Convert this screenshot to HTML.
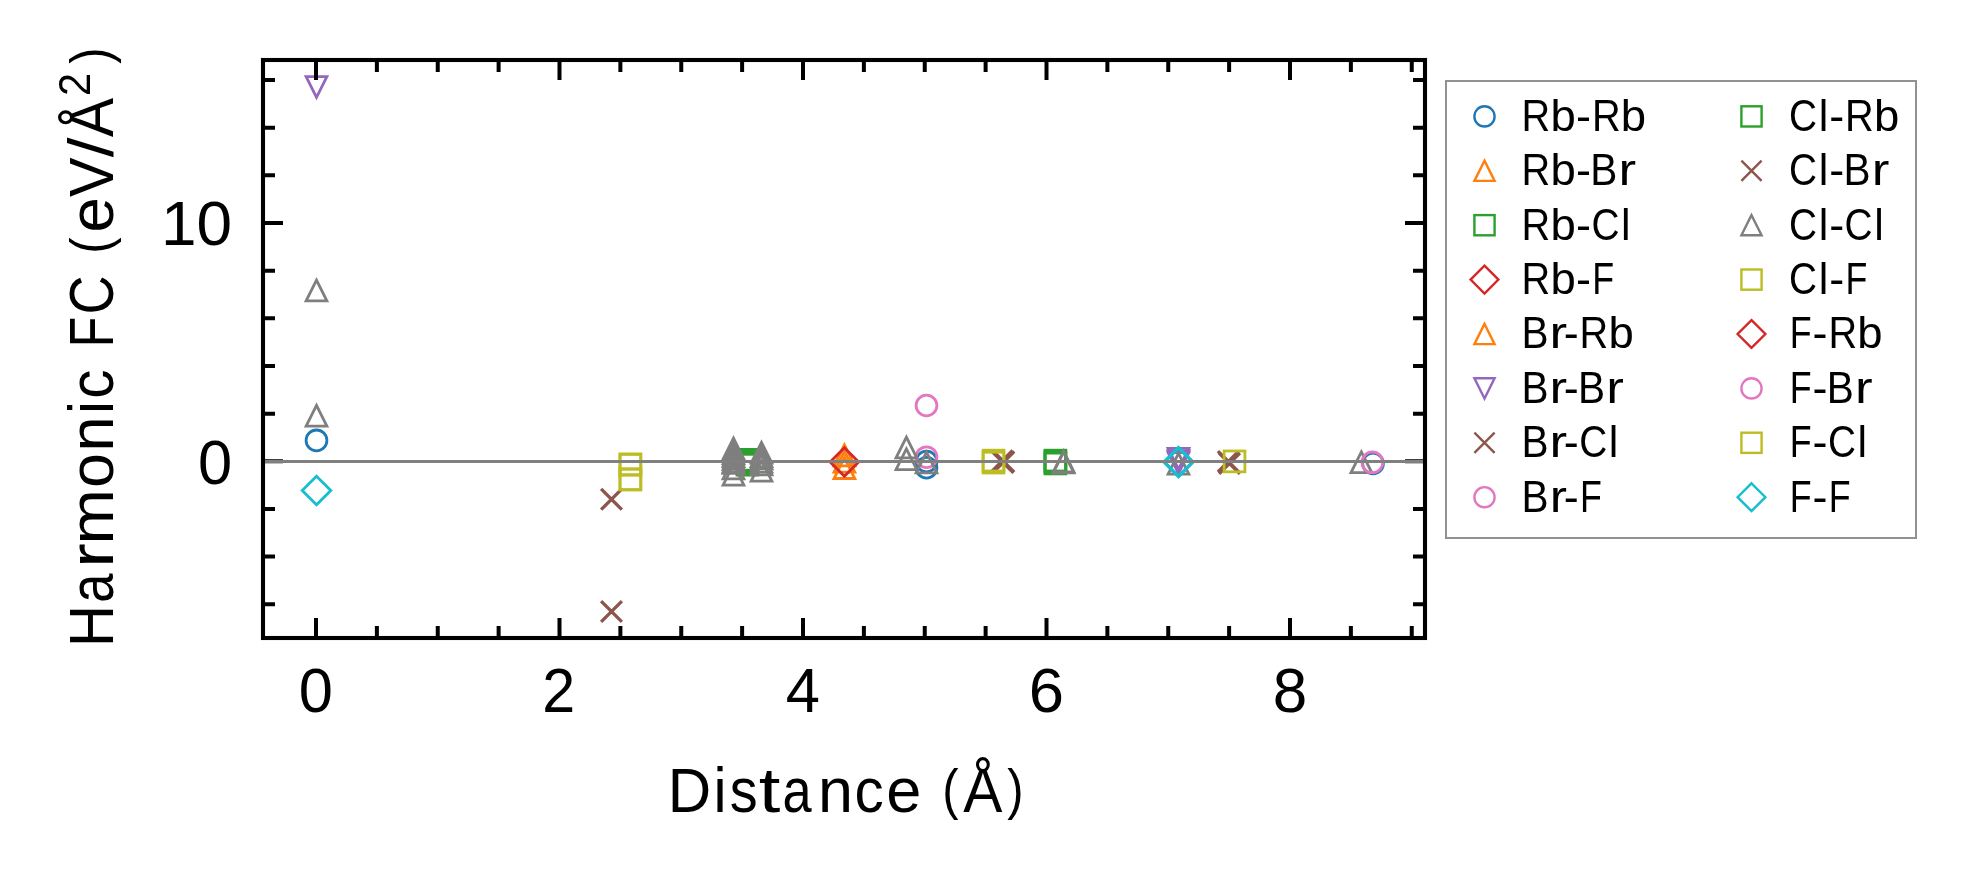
<!DOCTYPE html>
<html><head><meta charset="utf-8"><style>
html,body{margin:0;padding:0;background:#fff;width:1976px;height:883px;overflow:hidden}
svg{display:block;will-change:transform}
text{font-family:"Liberation Sans",sans-serif;fill:#000}
</style></head><body>
<svg width="1976" height="883" viewBox="0 0 1976 883">
<rect x="0" y="0" width="1976" height="883" fill="#fff"/>

<g>
<circle cx="316.50" cy="440.40" r="10.40" fill="none" stroke="#1f77b4" stroke-width="2.8"/>
<circle cx="926.50" cy="461.50" r="10.40" fill="none" stroke="#1f77b4" stroke-width="2.8"/>
<circle cx="926.50" cy="467.70" r="10.40" fill="none" stroke="#1f77b4" stroke-width="2.8"/>
<circle cx="1373.00" cy="463.50" r="10.40" fill="none" stroke="#1f77b4" stroke-width="2.8"/>
<path d="M844.40,445.00L834.00,465.80L854.80,465.80Z" fill="none" stroke="#ff7f0e" stroke-width="2.8" stroke-linejoin="miter"/>
<path d="M844.40,451.30L834.00,472.10L854.80,472.10Z" fill="none" stroke="#ff7f0e" stroke-width="2.8" stroke-linejoin="miter"/>
<path d="M844.40,457.70L834.00,478.50L854.80,478.50Z" fill="none" stroke="#ff7f0e" stroke-width="2.8" stroke-linejoin="miter"/>
<rect x="737.00" y="449.40" width="20.80" height="20.80" fill="none" stroke="#2ca02c" stroke-width="2.8" stroke-linejoin="miter"/>
<rect x="737.00" y="451.10" width="20.80" height="20.80" fill="none" stroke="#2ca02c" stroke-width="2.8" stroke-linejoin="miter"/>
<rect x="737.00" y="452.70" width="20.80" height="20.80" fill="none" stroke="#2ca02c" stroke-width="2.8" stroke-linejoin="miter"/>
<rect x="737.00" y="454.30" width="20.80" height="20.80" fill="none" stroke="#2ca02c" stroke-width="2.8" stroke-linejoin="miter"/>
<rect x="1045.00" y="450.20" width="20.80" height="20.80" fill="none" stroke="#2ca02c" stroke-width="2.8" stroke-linejoin="miter"/>
<rect x="1045.00" y="451.60" width="20.80" height="20.80" fill="none" stroke="#2ca02c" stroke-width="2.8" stroke-linejoin="miter"/>
<rect x="1045.00" y="453.10" width="20.80" height="20.80" fill="none" stroke="#2ca02c" stroke-width="2.8" stroke-linejoin="miter"/>
<path d="M316.50,97.40L306.10,76.60L326.90,76.60Z" fill="none" stroke="#9467bd" stroke-width="2.8" stroke-linejoin="miter"/>
<path d="M1178.50,469.20L1168.10,448.40L1188.90,448.40Z" fill="none" stroke="#9467bd" stroke-width="2.8" stroke-linejoin="miter"/>
<path d="M1178.50,471.40L1168.10,450.60L1188.90,450.60Z" fill="none" stroke="#9467bd" stroke-width="2.8" stroke-linejoin="miter"/>
<path d="M1178.50,473.40L1168.10,452.60L1188.90,452.60Z" fill="none" stroke="#9467bd" stroke-width="2.8" stroke-linejoin="miter"/>
<path d="M601.10,488.90L621.90,509.70M601.10,509.70L621.90,488.90" fill="none" stroke="#8c564b" stroke-width="3.30" stroke-linecap="butt"/>
<path d="M601.10,601.10L621.90,621.90M601.10,621.90L621.90,601.10" fill="none" stroke="#8c564b" stroke-width="3.30" stroke-linecap="butt"/>
<path d="M991.80,450.50L1012.60,471.30M991.80,471.30L1012.60,450.50" fill="none" stroke="#8c564b" stroke-width="3.30" stroke-linecap="butt"/>
<path d="M993.40,451.30L1014.20,472.10M993.40,472.10L1014.20,451.30" fill="none" stroke="#8c564b" stroke-width="3.30" stroke-linecap="butt"/>
<path d="M992.60,452.10L1013.40,472.90M992.60,472.90L1013.40,452.10" fill="none" stroke="#8c564b" stroke-width="3.30" stroke-linecap="butt"/>
<path d="M1217.90,451.20L1238.70,472.00M1217.90,472.00L1238.70,451.20" fill="none" stroke="#8c564b" stroke-width="3.30" stroke-linecap="butt"/>
<path d="M1219.10,453.00L1239.90,473.80M1219.10,473.80L1239.90,453.00" fill="none" stroke="#8c564b" stroke-width="3.30" stroke-linecap="butt"/>
<circle cx="926.50" cy="405.50" r="10.40" fill="none" stroke="#e377c2" stroke-width="2.8"/>
<circle cx="926.50" cy="457.20" r="10.40" fill="none" stroke="#e377c2" stroke-width="2.8"/>
<path d="M316.50,280.10L306.10,300.90L326.90,300.90Z" fill="none" stroke="#7f7f7f" stroke-width="2.8" stroke-linejoin="miter"/>
<path d="M316.50,405.30L306.10,426.10L326.90,426.10Z" fill="none" stroke="#7f7f7f" stroke-width="2.8" stroke-linejoin="miter"/>
<path d="M906.40,437.10L896.00,457.90L916.80,457.90Z" fill="none" stroke="#7f7f7f" stroke-width="2.8" stroke-linejoin="miter"/>
<path d="M906.40,448.90L896.00,469.70L916.80,469.70Z" fill="none" stroke="#7f7f7f" stroke-width="2.8" stroke-linejoin="miter"/>
<path d="M926.50,452.10L916.10,472.90L936.90,472.90Z" fill="none" stroke="#7f7f7f" stroke-width="2.8" stroke-linejoin="miter"/>
<path d="M1063.60,451.20L1053.20,472.00L1074.00,472.00Z" fill="none" stroke="#7f7f7f" stroke-width="2.8" stroke-linejoin="miter"/>
<path d="M1063.60,452.00L1053.20,472.80L1074.00,472.80Z" fill="none" stroke="#7f7f7f" stroke-width="2.8" stroke-linejoin="miter"/>
<path d="M1178.50,453.30L1168.10,474.10L1188.90,474.10Z" fill="none" stroke="#7f7f7f" stroke-width="2.8" stroke-linejoin="miter"/>
<path d="M1361.40,451.90L1351.00,472.70L1371.80,472.70Z" fill="none" stroke="#7f7f7f" stroke-width="2.8" stroke-linejoin="miter"/>
<path d="M733.50,438.20L723.10,459.00L743.90,459.00Z" fill="none" stroke="#7f7f7f" stroke-width="2.8" stroke-linejoin="miter"/>
<path d="M733.50,443.10L723.10,463.90L743.90,463.90Z" fill="none" stroke="#7f7f7f" stroke-width="2.8" stroke-linejoin="miter"/>
<path d="M733.50,445.80L723.10,466.60L743.90,466.60Z" fill="none" stroke="#7f7f7f" stroke-width="2.8" stroke-linejoin="miter"/>
<path d="M733.50,448.60L723.10,469.40L743.90,469.40Z" fill="none" stroke="#7f7f7f" stroke-width="2.8" stroke-linejoin="miter"/>
<path d="M733.50,451.30L723.10,472.10L743.90,472.10Z" fill="none" stroke="#7f7f7f" stroke-width="2.8" stroke-linejoin="miter"/>
<path d="M733.50,452.60L723.10,473.40L743.90,473.40Z" fill="none" stroke="#7f7f7f" stroke-width="2.8" stroke-linejoin="miter"/>
<path d="M733.50,458.10L723.10,478.90L743.90,478.90Z" fill="none" stroke="#7f7f7f" stroke-width="2.8" stroke-linejoin="miter"/>
<path d="M733.50,464.30L723.10,485.10L743.90,485.10Z" fill="none" stroke="#7f7f7f" stroke-width="2.8" stroke-linejoin="miter"/>
<path d="M761.50,442.30L751.10,463.10L771.90,463.10Z" fill="none" stroke="#7f7f7f" stroke-width="2.8" stroke-linejoin="miter"/>
<path d="M761.50,445.80L751.10,466.60L771.90,466.60Z" fill="none" stroke="#7f7f7f" stroke-width="2.8" stroke-linejoin="miter"/>
<path d="M761.50,448.10L751.10,468.90L771.90,468.90Z" fill="none" stroke="#7f7f7f" stroke-width="2.8" stroke-linejoin="miter"/>
<path d="M761.50,451.30L751.10,472.10L771.90,472.10Z" fill="none" stroke="#7f7f7f" stroke-width="2.8" stroke-linejoin="miter"/>
<path d="M761.50,454.00L751.10,474.80L771.90,474.80Z" fill="none" stroke="#7f7f7f" stroke-width="2.8" stroke-linejoin="miter"/>
<path d="M761.50,460.40L751.10,481.20L771.90,481.20Z" fill="none" stroke="#7f7f7f" stroke-width="2.8" stroke-linejoin="miter"/>
<circle cx="1372.40" cy="462.30" r="10.40" fill="none" stroke="#e377c2" stroke-width="2.8"/>
<rect x="620.00" y="453.90" width="20.80" height="20.80" fill="none" stroke="#bcbd22" stroke-width="2.8" stroke-linejoin="miter"/>
<rect x="620.00" y="454.40" width="20.80" height="20.80" fill="none" stroke="#bcbd22" stroke-width="2.8" stroke-linejoin="miter"/>
<rect x="620.00" y="468.80" width="20.80" height="20.80" fill="none" stroke="#bcbd22" stroke-width="2.8" stroke-linejoin="miter"/>
<rect x="620.00" y="469.20" width="20.80" height="20.80" fill="none" stroke="#bcbd22" stroke-width="2.8" stroke-linejoin="miter"/>
<rect x="983.10" y="450.20" width="20.80" height="20.80" fill="none" stroke="#bcbd22" stroke-width="2.8" stroke-linejoin="miter"/>
<rect x="983.10" y="452.20" width="20.80" height="20.80" fill="none" stroke="#bcbd22" stroke-width="2.8" stroke-linejoin="miter"/>
<rect x="1224.10" y="451.00" width="20.80" height="20.80" fill="none" stroke="#bcbd22" stroke-width="2.8" stroke-linejoin="miter"/>
<path d="M844.40,447.70L858.70,462.00L844.40,476.30L830.10,462.00Z" fill="none" stroke="#d62728" stroke-width="2.8" stroke-linejoin="miter"/>
<path d="M316.50,476.20L330.80,490.50L316.50,504.80L302.20,490.50Z" fill="none" stroke="#17becf" stroke-width="2.8" stroke-linejoin="miter"/>
<path d="M1178.50,447.30L1192.80,461.60L1178.50,475.90L1164.20,461.60Z" fill="none" stroke="#17becf" stroke-width="2.8" stroke-linejoin="miter"/>
<path d="M1178.50,448.30L1192.80,462.60L1178.50,476.90L1164.20,462.60Z" fill="none" stroke="#17becf" stroke-width="2.8" stroke-linejoin="miter"/>
</g>
<path d="M316.00,638.0V618.0M316.00,60.0V80.0M559.50,638.0V618.0M559.50,60.0V80.0M803.00,638.0V618.0M803.00,60.0V80.0M1046.50,638.0V618.0M1046.50,60.0V80.0M1290.00,638.0V618.0M1290.00,60.0V80.0M376.88,638.0V626.0M376.88,60.0V72.0M437.75,638.0V626.0M437.75,60.0V72.0M498.62,638.0V626.0M498.62,60.0V72.0M620.38,638.0V626.0M620.38,60.0V72.0M681.25,638.0V626.0M681.25,60.0V72.0M742.12,638.0V626.0M742.12,60.0V72.0M863.88,638.0V626.0M863.88,60.0V72.0M924.75,638.0V626.0M924.75,60.0V72.0M985.62,638.0V626.0M985.62,60.0V72.0M1107.38,638.0V626.0M1107.38,60.0V72.0M1168.25,638.0V626.0M1168.25,60.0V72.0M1229.12,638.0V626.0M1229.12,60.0V72.0M1350.88,638.0V626.0M1350.88,60.0V72.0M1411.75,638.0V626.0M1411.75,60.0V72.0M263.0,461.30H283.0M1425.0,461.30H1405.0M263.0,223.00H283.0M1425.0,223.00H1405.0M263.0,604.28H275.0M1425.0,604.28H1413.0M263.0,556.62H275.0M1425.0,556.62H1413.0M263.0,508.96H275.0M1425.0,508.96H1413.0M263.0,413.64H275.0M1425.0,413.64H1413.0M263.0,365.98H275.0M1425.0,365.98H1413.0M263.0,318.32H275.0M1425.0,318.32H1413.0M263.0,270.66H275.0M1425.0,270.66H1413.0M263.0,175.34H275.0M1425.0,175.34H1413.0M263.0,127.68H275.0M1425.0,127.68H1413.0M263.0,80.02H275.0M1425.0,80.02H1413.0" stroke="#000" stroke-width="4.0" fill="none"/>
<line x1="263.0" y1="461.5" x2="1425.0" y2="461.5" stroke="#808080" stroke-width="3"/>
<rect x="263.0" y="60.0" width="1162.0" height="578.0" fill="none" stroke="#000" stroke-width="4.1" stroke-linejoin="miter"/>
<text transform="translate(298.83,711.90) scale(0.9703,1)" font-size="63.35" >0</text>
<text transform="translate(542.26,711.90) scale(0.9343,1)" font-size="63.35" >2</text>
<text transform="translate(785.80,711.90) scale(0.9718,1)" font-size="63.35" >4</text>
<text transform="translate(1028.85,711.90) scale(1.0000,1)" font-size="63.35" >6</text>
<text transform="translate(1272.71,711.90) scale(0.9798,1)" font-size="63.35" >8</text>
<text transform="translate(197.88,483.50) scale(0.9703,1)" font-size="63.35" >0</text>
<text transform="translate(160.97,245.20) scale(1.0095,1)" font-size="63.35" >10</text>
<text transform="translate(667.76,811.60) scale(0.9495,1)" font-size="63.35">D</text><text transform="translate(713.45,811.60) scale(0.9286,1)" font-size="63.35">i</text><text transform="translate(729.65,811.60) scale(0.8804,1)" font-size="63.35">s</text><text transform="translate(758.76,811.60) scale(1.2284,1)" font-size="63.35">t</text><text transform="translate(782.50,811.60) scale(0.8252,1)" font-size="63.35">a</text><text transform="translate(818.05,811.60) scale(0.9926,1)" font-size="63.35">n</text><text transform="translate(854.55,811.60) scale(0.9231,1)" font-size="63.35">c</text><text transform="translate(886.37,811.60) scale(0.9966,1)" font-size="63.35">e</text><text transform="translate(942.20,807.78) scale(0.7738,0.8797)" font-size="63.35" >(</text><text transform="translate(963.35,811.60) scale(0.9262,1)" font-size="63.35">Å</text><text transform="translate(1007.18,807.78) scale(0.7738,0.8797)" font-size="63.35" >)</text>
<g transform="translate(112.8,642.3) rotate(-90)"><text transform="translate(-4.76,0.00) scale(0.9176,1)" font-size="63.35">H</text><text transform="translate(39.49,0.00) scale(0.8273,1)" font-size="63.35">a</text><text transform="translate(74.36,0.00) scale(1.1792,1)" font-size="63.35">r</text><text transform="translate(97.91,0.00) scale(1.0500,1)" font-size="63.35">m</text><text transform="translate(154.46,0.00) scale(0.9825,1)" font-size="63.35">o</text><text transform="translate(190.77,0.00) scale(0.9951,1)" font-size="63.35">n</text><text transform="translate(228.25,0.00) scale(0.9310,1)" font-size="63.35">i</text><text transform="translate(243.58,0.00) scale(0.9255,1)" font-size="63.35">c</text><text transform="translate(295.16,0.00) scale(0.7891,1)" font-size="63.35">F</text><text transform="translate(327.71,0.00) scale(0.8551,1)" font-size="63.35">C</text><text transform="translate(388.47,-3.82) scale(0.7758,0.8797)" font-size="63.35" >(</text><text transform="translate(409.78,0.00) scale(0.9992,1)" font-size="63.35">e</text><text transform="translate(445.42,0.00) scale(0.9353,1)" font-size="63.35">V</text><text transform="translate(485.15,0.00) scale(1.1165,1)" font-size="63.35">/</text><text transform="translate(505.23,0.00) scale(0.9286,1)" font-size="63.35">Å</text><text transform="translate(546.34,-23.20) scale(0.9356,1)" font-size="44.35" >2</text><text transform="translate(578.49,-3.82) scale(0.7738,0.8797)" font-size="63.35" >)</text></g>
<rect x="1446" y="81" width="470" height="457" fill="#fff" stroke="#919191" stroke-width="2"/>
<circle cx="1484.50" cy="116.40" r="10.10" fill="none" stroke="#1f77b4" stroke-width="2.4"/>
<text transform="translate(1521.56,130.80) scale(0.9008,1)" font-size="44.15">R</text><text transform="translate(1550.43,130.80) scale(1.0303,1)" font-size="44.15">b</text><text transform="translate(1576.01,130.80) scale(1.0185,1)" font-size="44.15">-</text><text transform="translate(1591.92,130.80) scale(0.9008,1)" font-size="44.15">R</text><text transform="translate(1620.80,130.80) scale(1.0303,1)" font-size="44.15">b</text>
<path d="M1484.50,160.70L1474.40,180.90L1494.60,180.90Z" fill="none" stroke="#ff7f0e" stroke-width="2.4" stroke-linejoin="miter"/>
<text transform="translate(1521.56,185.20) scale(0.9008,1)" font-size="44.15">R</text><text transform="translate(1550.43,185.20) scale(1.0303,1)" font-size="44.15">b</text><text transform="translate(1576.01,185.20) scale(1.0185,1)" font-size="44.15">-</text><text transform="translate(1590.36,185.20) scale(0.9191,1)" font-size="44.15">B</text><text transform="translate(1618.45,185.20) scale(1.1982,1)" font-size="44.15">r</text>
<rect x="1474.40" y="215.10" width="20.20" height="20.20" fill="none" stroke="#2ca02c" stroke-width="2.4" stroke-linejoin="miter"/>
<text transform="translate(1521.56,239.60) scale(0.9008,1)" font-size="44.15">R</text><text transform="translate(1550.43,239.60) scale(1.0303,1)" font-size="44.15">b</text><text transform="translate(1576.01,239.60) scale(1.0185,1)" font-size="44.15">-</text><text transform="translate(1591.43,239.60) scale(0.8786,1)" font-size="44.15">C</text><text transform="translate(1621.11,239.60) scale(0.9744,1)" font-size="44.15">l</text>
<path d="M1484.50,265.71L1498.39,279.60L1484.50,293.49L1470.61,279.60Z" fill="none" stroke="#d62728" stroke-width="2.4" stroke-linejoin="miter"/>
<text transform="translate(1521.56,294.00) scale(0.9008,1)" font-size="44.15">R</text><text transform="translate(1550.43,294.00) scale(1.0303,1)" font-size="44.15">b</text><text transform="translate(1576.01,294.00) scale(1.0185,1)" font-size="44.15">-</text><text transform="translate(1592.25,294.00) scale(0.8102,1)" font-size="44.15">F</text>
<path d="M1484.50,323.90L1474.40,344.10L1494.60,344.10Z" fill="none" stroke="#ff7f0e" stroke-width="2.4" stroke-linejoin="miter"/>
<text transform="translate(1521.49,348.40) scale(0.9191,1)" font-size="44.15">B</text><text transform="translate(1549.58,348.40) scale(1.1982,1)" font-size="44.15">r</text><text transform="translate(1563.71,348.40) scale(1.0185,1)" font-size="44.15">-</text><text transform="translate(1579.62,348.40) scale(0.9008,1)" font-size="44.15">R</text><text transform="translate(1608.50,348.40) scale(1.0303,1)" font-size="44.15">b</text>
<path d="M1484.50,398.50L1474.40,378.30L1494.60,378.30Z" fill="none" stroke="#9467bd" stroke-width="2.4" stroke-linejoin="miter"/>
<text transform="translate(1521.49,402.80) scale(0.9191,1)" font-size="44.15">B</text><text transform="translate(1549.58,402.80) scale(1.1982,1)" font-size="44.15">r</text><text transform="translate(1563.71,402.80) scale(1.0185,1)" font-size="44.15">-</text><text transform="translate(1578.06,402.80) scale(0.9191,1)" font-size="44.15">B</text><text transform="translate(1606.15,402.80) scale(1.1982,1)" font-size="44.15">r</text>
<path d="M1474.40,432.70L1494.60,452.90M1474.40,452.90L1494.60,432.70" fill="none" stroke="#8c564b" stroke-width="2.40" stroke-linecap="butt"/>
<text transform="translate(1521.49,457.20) scale(0.9191,1)" font-size="44.15">B</text><text transform="translate(1549.58,457.20) scale(1.1982,1)" font-size="44.15">r</text><text transform="translate(1563.71,457.20) scale(1.0185,1)" font-size="44.15">-</text><text transform="translate(1579.13,457.20) scale(0.8786,1)" font-size="44.15">C</text><text transform="translate(1608.81,457.20) scale(0.9744,1)" font-size="44.15">l</text>
<circle cx="1484.50" cy="497.20" r="10.10" fill="none" stroke="#e377c2" stroke-width="2.4"/>
<text transform="translate(1521.49,511.60) scale(0.9191,1)" font-size="44.15">B</text><text transform="translate(1549.79,511.60) scale(1.1739,1)" font-size="44.15">r</text><text transform="translate(1563.71,511.60) scale(1.0185,1)" font-size="44.15">-</text><text transform="translate(1579.95,511.60) scale(0.8102,1)" font-size="44.15">F</text>
<rect x="1741.40" y="106.30" width="20.20" height="20.20" fill="none" stroke="#2ca02c" stroke-width="2.4" stroke-linejoin="miter"/>
<text transform="translate(1788.97,130.80) scale(0.8786,1)" font-size="44.15">C</text><text transform="translate(1818.64,130.80) scale(0.9744,1)" font-size="44.15">l</text><text transform="translate(1829.19,130.80) scale(1.0185,1)" font-size="44.15">-</text><text transform="translate(1845.11,130.80) scale(0.9008,1)" font-size="44.15">R</text><text transform="translate(1873.98,130.80) scale(1.0303,1)" font-size="44.15">b</text>
<path d="M1741.40,160.70L1761.60,180.90M1741.40,180.90L1761.60,160.70" fill="none" stroke="#8c564b" stroke-width="2.40" stroke-linecap="butt"/>
<text transform="translate(1788.97,185.20) scale(0.8786,1)" font-size="44.15">C</text><text transform="translate(1818.64,185.20) scale(0.9744,1)" font-size="44.15">l</text><text transform="translate(1829.19,185.20) scale(1.0185,1)" font-size="44.15">-</text><text transform="translate(1843.54,185.20) scale(0.9191,1)" font-size="44.15">B</text><text transform="translate(1871.63,185.20) scale(1.1982,1)" font-size="44.15">r</text>
<path d="M1751.50,215.10L1741.40,235.30L1761.60,235.30Z" fill="none" stroke="#7f7f7f" stroke-width="2.4" stroke-linejoin="miter"/>
<text transform="translate(1788.97,239.60) scale(0.8786,1)" font-size="44.15">C</text><text transform="translate(1818.64,239.60) scale(0.9744,1)" font-size="44.15">l</text><text transform="translate(1829.19,239.60) scale(1.0185,1)" font-size="44.15">-</text><text transform="translate(1844.62,239.60) scale(0.8786,1)" font-size="44.15">C</text><text transform="translate(1874.29,239.60) scale(0.9744,1)" font-size="44.15">l</text>
<rect x="1741.40" y="269.50" width="20.20" height="20.20" fill="none" stroke="#bcbd22" stroke-width="2.4" stroke-linejoin="miter"/>
<text transform="translate(1788.97,294.00) scale(0.8786,1)" font-size="44.15">C</text><text transform="translate(1818.64,294.00) scale(0.9744,1)" font-size="44.15">l</text><text transform="translate(1829.19,294.00) scale(1.0185,1)" font-size="44.15">-</text><text transform="translate(1845.43,294.00) scale(0.8102,1)" font-size="44.15">F</text>
<path d="M1751.50,320.11L1765.39,334.00L1751.50,347.89L1737.61,334.00Z" fill="none" stroke="#d62728" stroke-width="2.4" stroke-linejoin="miter"/>
<text transform="translate(1789.78,348.40) scale(0.8102,1)" font-size="44.15">F</text><text transform="translate(1812.51,348.40) scale(1.0185,1)" font-size="44.15">-</text><text transform="translate(1828.42,348.40) scale(0.9008,1)" font-size="44.15">R</text><text transform="translate(1857.30,348.40) scale(1.0303,1)" font-size="44.15">b</text>
<circle cx="1751.50" cy="388.40" r="10.10" fill="none" stroke="#e377c2" stroke-width="2.4"/>
<text transform="translate(1789.78,402.80) scale(0.8102,1)" font-size="44.15">F</text><text transform="translate(1812.51,402.80) scale(1.0185,1)" font-size="44.15">-</text><text transform="translate(1826.85,402.80) scale(0.9191,1)" font-size="44.15">B</text><text transform="translate(1854.94,402.80) scale(1.1982,1)" font-size="44.15">r</text>
<rect x="1741.40" y="432.70" width="20.20" height="20.20" fill="none" stroke="#bcbd22" stroke-width="2.4" stroke-linejoin="miter"/>
<text transform="translate(1789.78,457.20) scale(0.8102,1)" font-size="44.15">F</text><text transform="translate(1812.51,457.20) scale(1.0185,1)" font-size="44.15">-</text><text transform="translate(1827.93,457.20) scale(0.8786,1)" font-size="44.15">C</text><text transform="translate(1857.60,457.20) scale(0.9744,1)" font-size="44.15">l</text>
<path d="M1751.50,483.31L1765.39,497.20L1751.50,511.09L1737.61,497.20Z" fill="none" stroke="#17becf" stroke-width="2.4" stroke-linejoin="miter"/>
<text transform="translate(1789.78,511.60) scale(0.8102,1)" font-size="44.15">F</text><text transform="translate(1812.51,511.60) scale(1.0185,1)" font-size="44.15">-</text><text transform="translate(1828.75,511.60) scale(0.8102,1)" font-size="44.15">F</text>
</svg></body></html>
